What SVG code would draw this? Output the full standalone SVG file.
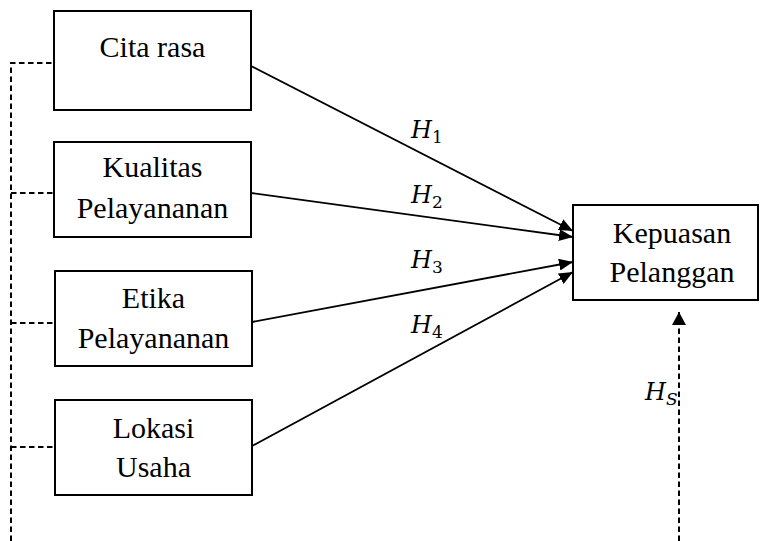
<svg xmlns="http://www.w3.org/2000/svg" width="760" height="541" viewBox="0 0 760 541">
<style>
.box{fill:#fff;stroke:#000;stroke-width:2}
.t{font-family:"Liberation Serif","Times New Roman",serif;font-size:30px;fill:#000;text-anchor:middle}
.h{font-family:"DejaVu Serif","Liberation Serif",serif;font-style:italic;font-size:24px;fill:#000}
.sub{font-size:17px;font-style:normal}
.subi{font-size:17px;font-style:italic}
.ln{stroke:#000;stroke-width:1.8;fill:none}
.ds{stroke:#000;stroke-width:2;fill:none;stroke-dasharray:5.5 3.5}
</style>
<defs>
<marker id="ah" viewBox="0 0 14 12" refX="14" refY="6" markerWidth="14" markerHeight="12" markerUnits="userSpaceOnUse" orient="auto">
<path d="M0,0 L14,6 L0,12 Z" fill="#000"/>
</marker>
<marker id="ah2" viewBox="0 0 13 14" refX="13" refY="7" markerWidth="13" markerHeight="14" markerUnits="userSpaceOnUse" orient="auto">
<path d="M0,0 L13,7 L0,14 Z" fill="#000"/>
</marker>
</defs>
<g id="connectors">
<path class="ds" d="M11,541 V63 H54"/>
<path class="ds" d="M11,193 H54"/>
<path class="ds" d="M11,323 H55"/>
<path class="ds" d="M11,447 H55"/>
<line class="ln" x1="251" y1="66" x2="573" y2="231" marker-end="url(#ah)"/>
<line class="ln" x1="251" y1="193" x2="573" y2="237" marker-end="url(#ah)"/>
<line class="ln" x1="252" y1="322" x2="573" y2="262" marker-end="url(#ah)"/>
<line class="ln" x1="252" y1="446" x2="573" y2="272" marker-end="url(#ah)"/>
<line class="ds" x1="679" y1="541" x2="679" y2="312" marker-end="url(#ah2)"/>
<text class="h" x="411" y="138">H<tspan class="sub" dy="5">1</tspan></text>
<text class="h" x="411" y="203">H<tspan class="sub" dy="5">2</tspan></text>
<text class="h" x="411" y="268">H<tspan class="sub" dy="5">3</tspan></text>
<text class="h" x="411" y="333">H<tspan class="sub" dy="5">4</tspan></text>
<text class="h" x="645" y="400">H<tspan class="subi" dy="5">S</tspan></text>
</g>
<g id="cita-rasa">
<rect class="box" x="54" y="11" width="197" height="99"/>
<text class="t" x="152.5" y="57">Cita rasa</text>
</g>
<g id="kualitas-pelayanan">
<rect class="box" x="54" y="142" width="197" height="95"/>
<text class="t" x="152.5" y="177">Kualitas</text>
<text class="t" x="152.5" y="218">Pelayananan</text>
</g>
<g id="etika-pelayanan">
<rect class="box" x="55" y="271" width="197" height="95"/>
<text class="t" x="153.5" y="308">Etika</text>
<text class="t" x="153.5" y="348">Pelayananan</text>
</g>
<g id="lokasi-usaha">
<rect class="box" x="55" y="400" width="197" height="95"/>
<text class="t" x="153.5" y="438">Lokasi</text>
<text class="t" x="153.5" y="477">Usaha</text>
</g>
<g id="kepuasan-pelanggan">
<rect class="box" x="573" y="205" width="185" height="95"/>
<text class="t" x="672" y="243">Kepuasan</text>
<text class="t" x="672" y="282">Pelanggan</text>
</g>
</svg>
